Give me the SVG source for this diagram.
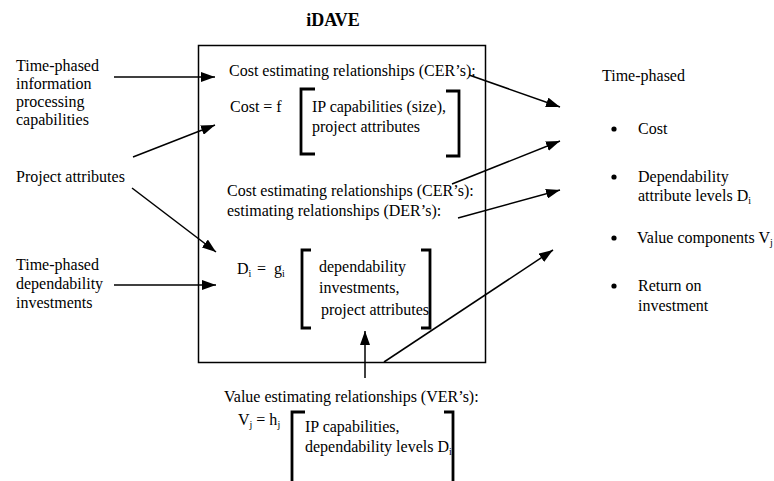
<svg xmlns="http://www.w3.org/2000/svg" width="774" height="481" viewBox="0 0 774 481" font-family="'Liberation Serif', Tinos, 'Times New Roman', 'DejaVu Serif', serif">
<defs>
<marker id="ah" markerUnits="userSpaceOnUse" markerWidth="14" markerHeight="10" refX="14" refY="5" orient="auto"><path d="M0,0 L14,5 L0,10 z" fill="#000"/></marker>
</defs>
<style>
text{font-family:'Liberation Serif', Tinos, 'Times New Roman', 'DejaVu Serif', serif;font-size:16px;fill:#000}
.t{font-weight:bold;font-size:18px}
.s{font-size:10px}
.br{fill:none;stroke:#000;stroke-width:2.8}
.ln{fill:none;stroke:#000;stroke-width:1.5;marker-end:url(#ah)}
</style>
<rect width="774" height="481" fill="#fff"/>
<g id="title"><text class="t" x="333" y="26" text-anchor="middle">iDAVE</text></g>
<g id="idave-box">
<rect x="198.5" y="45.5" width="287" height="317" fill="none" stroke="#000" stroke-width="1.5"/>
<text x="229" y="76">Cost estimating relationships (CER’s):</text>
<text x="230" y="112">Cost = f</text>
<path class="br" d="M315,89 H301 V154 H315"/>
<text x="312" y="112">IP capabilities (size),</text>
<text x="312" y="132">project attributes</text>
<path class="br" d="M446,91 H459 V156 H446"/>
<text x="227" y="196">Cost estimating relationships (CER’s):</text>
<text x="227" y="216">estimating relationships (DER’s):</text>
<text x="237" y="274">D<tspan class="s" dy="3">i</tspan><tspan x="257" dy="-3">=</tspan><tspan x="274">g</tspan><tspan class="s" dy="3">i</tspan></text>
<path class="br" d="M311,250 H302 V328 H311"/>
<text x="319" y="272">dependability</text>
<text x="319" y="293">investments,</text>
<text x="321" y="315">project attributes</text>
<path class="br" d="M421,250 H430 V328 H421"/>
</g>
<g id="in-ip"><text x="16" y="71">Time-phased</text><text x="16" y="89">information</text><text x="16" y="107">processing</text><text x="16" y="125">capabilities</text></g>
<g id="in-proj"><text x="16" y="182">Project attributes</text></g>
<g id="in-dep"><text x="16" y="270">Time-phased</text><text x="16" y="289">dependability</text><text x="16" y="308">investments</text></g>
<g id="out">
<text x="602" y="81">Time-phased</text>
<circle cx="614" cy="129" r="2.6"/><text x="638" y="134">Cost</text>
<circle cx="614" cy="177" r="2.6"/><text x="638" y="182">Dependability</text><text x="638" y="201">attribute levels D<tspan class="s" dy="3">i</tspan></text>
<circle cx="614" cy="238" r="2.6"/><text x="637" y="243" font-size="15.5">Value components V<tspan class="s" dy="3">j</tspan></text>
<circle cx="614" cy="286" r="2.6"/><text x="638" y="291">Return on</text><text x="638" y="311">investment</text>
</g>
<g id="ver">
<text x="224" y="402">Value estimating relationships (VER’s):</text>
<text x="238" y="425">V<tspan class="s" dy="3">j</tspan><tspan dy="-3"> = h</tspan><tspan class="s" dy="3">j</tspan></text>
<path class="br" d="M305,412 H292 V490"/>
<text x="305" y="432">IP capabilities,</text>
<text x="305" y="452">dependability levels D<tspan class="s" dy="3">i</tspan></text>
<path class="br" d="M444,412 H453 V490"/>
</g>
<g id="connectors">
<line class="ln" x1="114" y1="77" x2="215" y2="77"/>
<line class="ln" x1="133" y1="157" x2="215" y2="125"/>
<line class="ln" x1="132" y1="188" x2="216" y2="252"/>
<line class="ln" x1="114" y1="285" x2="216" y2="285"/>
<line class="ln" x1="469" y1="75" x2="560" y2="107"/>
<line class="ln" x1="452" y1="184" x2="560" y2="141"/>
<line class="ln" x1="458" y1="218" x2="560" y2="190"/>
<line class="ln" x1="384" y1="362" x2="553" y2="250"/>
<line class="ln" x1="365" y1="378" x2="365" y2="331"/>
</g>
</svg>
